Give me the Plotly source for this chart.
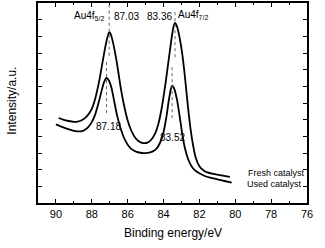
import plotly.graph_objects as go

# Binding energy (eV) and intensity (a.u.)
fresh_be = [89.85, 89.6, 89.3, 89.0, 88.8, 88.6, 88.4, 88.2, 88.0, 87.8, 87.6, 87.4, 87.25, 87.1,
            87.03, 86.95, 86.8, 86.6, 86.4, 86.2, 86.0, 85.8, 85.6, 85.4, 85.2, 85.04, 84.9, 84.7,
            84.5, 84.3, 84.1, 83.9, 83.7, 83.55, 83.45, 83.36, 83.25, 83.1, 82.95, 82.8, 82.65,
            82.5, 82.35, 82.2, 82.0, 81.8, 81.6, 81.3, 81.0, 80.7, 80.3]
fresh_int = [5.10, 5.00, 4.92, 4.87, 4.88, 4.95, 5.08, 5.30, 5.65, 6.30, 7.25, 8.45, 9.35, 10.05,
             10.25, 10.15, 9.55, 8.40, 7.00, 5.85, 4.95, 4.35, 3.95, 3.72, 3.61, 3.59, 3.62, 3.78,
             4.10, 4.70, 5.70, 7.10, 8.70, 9.90, 10.55, 10.80, 10.60, 9.90, 8.90, 7.50, 5.90,
             4.50, 3.45, 2.70, 2.20, 1.98, 1.85, 1.76, 1.70, 1.64, 1.57]

used_be = [90.0, 89.7, 89.4, 89.1, 88.8, 88.6, 88.4, 88.2, 88.0, 87.8, 87.6, 87.45, 87.3, 87.18,
           87.05, 86.9, 86.75, 86.6, 86.4, 86.2, 86.0, 85.8, 85.5, 85.2, 85.0, 84.8, 84.6, 84.4,
           84.2, 84.0, 83.85, 83.7, 83.6, 83.52, 83.4, 83.25, 83.1, 82.95, 82.8, 82.6, 82.4,
           82.2, 82.0, 81.7, 81.4, 81.0, 80.6, 80.2]
used_int = [4.72, 4.58, 4.46, 4.36, 4.30, 4.30, 4.38, 4.55, 4.85, 5.35, 6.10, 6.75, 7.30, 7.50,
            7.35, 6.90, 6.10, 5.30, 4.50, 3.90, 3.50, 3.25, 3.07, 3.00, 2.99, 3.02, 3.10, 3.25,
            3.60, 4.25, 5.10, 6.20, 6.80, 7.04, 6.85, 6.20, 5.20, 4.10, 3.25, 2.55, 2.15,
            1.92, 1.78, 1.62, 1.52, 1.42, 1.32, 1.22]

fresh_peaks = [87.03, 83.36]
used_peaks = [87.18, 83.52]
fresh_mark_top = [11.9, 11.45]
fresh_mark_bot = [8.7, 8.6]
used_mark_top = [8.45, 8.15]
used_mark_bot = [5.4, 5.1]

x_ticks = [90, 88, 86, 84, 82, 80, 78, 76]

fig = go.Figure()
fig.add_trace(go.Scatter(x=fresh_be, y=fresh_int, mode="lines", line=dict(color="black", width=1.8, shape="spline", smoothing=0.6), name="Fresh catalyst"))
fig.add_trace(go.Scatter(x=used_be, y=used_int, mode="lines", line=dict(color="black", width=1.8, shape="spline", smoothing=0.6), name="Used catalyst"))

for pk, t, b in zip(fresh_peaks + used_peaks, fresh_mark_top + used_mark_top, fresh_mark_bot + used_mark_bot):
    fig.add_trace(go.Scatter(x=[pk, pk], y=[t, b], mode="lines", line=dict(color="#666", width=1, dash="dot"), hoverinfo="skip"))

FONT = "Liberation Sans, Arial, sans-serif"
af = dict(family=FONT, color="black")
ann = [
    dict(x=fresh_peaks[0], y=11.2, text="Au4f<sub>5/2</sub>", xanchor="right", xshift=-3, size=10),
    dict(x=fresh_peaks[0], y=11.2, text=f"{fresh_peaks[0]:.2f}", xanchor="left", xshift=3, size=10),
    dict(x=fresh_peaks[1], y=11.2, text=f"{fresh_peaks[1]:.2f}", xanchor="right", xshift=-1, size=10),
    dict(x=fresh_peaks[1], y=11.3, text="Au4f<sub>7/2</sub>", xanchor="left", xshift=1, size=10),
    dict(x=used_peaks[0], y=4.6, text=f"{used_peaks[0]:.2f}", xanchor="center", xshift=2, size=10),
    dict(x=used_peaks[1], y=3.93, text=f"{used_peaks[1]:.2f}", xanchor="center", xshift=0, size=10),
    dict(x=77.7, y=1.8, text="Fresh catalyst", xanchor="center", xshift=0, size=9),
    dict(x=77.8, y=1.12, text="Used catalyst", xanchor="center", xshift=0, size=9),
]
for a in ann:
    fig.add_annotation(x=a["x"], y=a["y"], text=a["text"], xref="x", yref="y", showarrow=False,
                       xanchor=a["xanchor"], yanchor="middle", xshift=a["xshift"],
                       font=dict(size=a["size"], **af))

# axis titles
fig.add_annotation(text="Binding energy/eV", xref="paper", yref="paper", x=0.5, y=-0.15,
                   xanchor="center", yanchor="middle", showarrow=False, font=dict(size=12, **af))
fig.add_annotation(text="Intensity/a.u.", xref="paper", yref="paper", x=-0.098, y=0.51,
                   xanchor="center", yanchor="middle", textangle=-90, showarrow=False,
                   font=dict(size=12, **af))

fig.update_layout(
    width=325, height=248, margin=dict(l=38, r=18, t=3, b=45, autoexpand=False),
    paper_bgcolor="white", plot_bgcolor="white", showlegend=False,
    font=dict(family=FONT, color="black"),
)
fig.update_xaxes(range=[91, 76], tickvals=x_ticks, ticktext=[str(v) for v in x_ticks],
                 ticks="inside", ticklen=4, tickwidth=1, tickcolor="black",
                 minor=dict(dtick=1, ticks="inside", ticklen=2.5, tickcolor="black", tick0=76),
                 showline=True, linecolor="black", linewidth=1.5, mirror="ticks",
                 showgrid=False, zeroline=False, tickfont=dict(size=11), automargin=False)
fig.update_yaxes(range=[0, 12], dtick=1, tick0=0, showticklabels=False,
                 ticks="inside", ticklen=4, tickwidth=1, tickcolor="black",
                 showline=True, linecolor="black", linewidth=1.5, mirror="ticks",
                 showgrid=False, zeroline=False, automargin=False)

fig.write_html("out.html", config={"displayModeBar": False},
               post_script="document.body.style.margin='0';document.body.style.padding='0';")
